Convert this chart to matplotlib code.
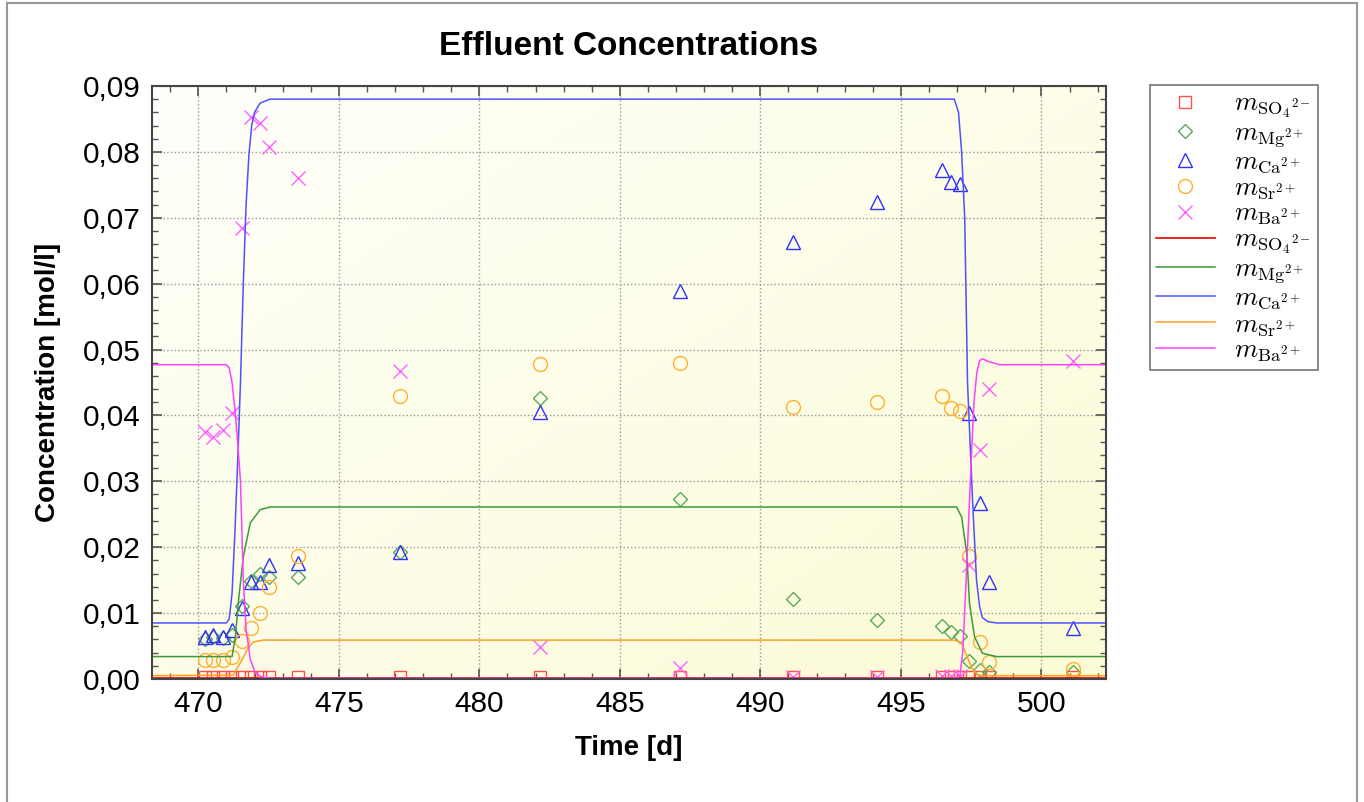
import matplotlib
matplotlib.use("Agg")
import matplotlib.pyplot as plt
import numpy as np
from matplotlib.ticker import MultipleLocator, FuncFormatter
from matplotlib.colors import LinearSegmentedColormap
from matplotlib.lines import Line2D

# measured effluent concentrations (mol/l)
t_obs = [470.25, 470.53, 470.89, 471.21, 471.56, 471.87, 472.2, 472.53, 473.54,
         477.18, 482.16, 487.13, 491.15, 494.14,
         496.45, 496.77, 497.09, 497.44, 497.8, 498.12, 501.14]
so4_obs = [0.0003] * 21
mg_obs = [0.0061, 0.0064, 0.0062, 0.0067, 0.0111, 0.0149, 0.0160, 0.0155, 0.0155,
          0.0193, 0.0427, 0.0273, 0.0122, 0.0090,
          0.0080, 0.0072, 0.0065, 0.0028, 0.0014, 0.0010, 0.0010]
ca_obs = [0.0064, 0.0066, 0.0064, 0.0074, 0.0108, 0.0147, 0.0147, 0.0173, 0.0176,
          0.0192, 0.0405, 0.0589, 0.0663, 0.0724,
          0.0772, 0.0755, 0.0751, 0.0404, 0.0267, 0.0147, 0.0077]
sr_obs = [0.0029, 0.0029, 0.0029, 0.0033, 0.0058, 0.0077, 0.0100, 0.0140, 0.0187,
          0.0429, 0.0478, 0.0480, 0.0413, 0.0420,
          0.0430, 0.0411, 0.0407, 0.0187, 0.0056, 0.0026, 0.0015]
ba_obs = [0.0375, 0.0367, 0.0378, 0.0404, 0.0684, 0.0853, 0.0844, 0.0807, 0.0760,
          0.0467, 0.0049, 0.0017, 0.0003, 0.0003,
          0.0004, 0.0004, 0.0004, 0.0173, 0.0347, 0.0440, 0.0483]

# simulated curves
so4_t = [468.35, 502.3]
so4_sim = [0.0001, 0.0001]

mg_t = [468.35, 471.2, 471.32, 471.42, 471.6, 471.85, 472.2, 472.56,
        496.98, 497.16, 497.34, 497.44, 497.62, 497.9, 498.4, 502.3]
mg_sim = [0.0034, 0.0034, 0.0064, 0.0115, 0.0185, 0.0237, 0.0257, 0.0261,
          0.0261, 0.0246, 0.0191, 0.0115, 0.0064, 0.0039, 0.0034, 0.0034]

ca_t = [468.35, 471.0, 471.1, 471.2, 471.3, 471.4, 471.5, 471.6, 471.7, 471.8, 471.9,
        472.0, 472.2, 472.55, 496.9, 497.05, 497.16, 497.27, 497.37, 497.55, 497.69,
        497.8, 497.9, 498.1, 498.4, 502.3]
ca_sim = [0.0085, 0.0085, 0.0091, 0.013, 0.022, 0.033, 0.045, 0.060, 0.072, 0.0795, 0.084,
          0.086, 0.0874, 0.088, 0.088, 0.086, 0.080, 0.070, 0.045, 0.027, 0.015,
          0.011, 0.0093, 0.0087, 0.0085, 0.0085]

sr_t = [468.35, 471.24, 471.5, 471.75, 471.95, 472.3, 496.9, 497.15, 497.35,
        497.5, 497.7, 497.9, 502.3]
sr_sim = [0.0005, 0.0006, 0.0025, 0.0045, 0.0056, 0.0059, 0.0059, 0.0055, 0.0035,
          0.0018, 0.0007, 0.0005, 0.0005]

ba_t = [468.35, 471.0, 471.1, 471.2, 471.3, 471.4, 471.5, 471.6, 471.7, 471.85, 472.0,
        472.2, 472.5, 497.0, 497.1, 497.2, 497.3, 497.4, 497.5, 497.6, 497.7, 497.8,
        497.9, 498.1, 498.5, 502.3]
ba_sim = [0.0477, 0.0477, 0.0472, 0.045, 0.041, 0.036, 0.030, 0.015, 0.0075, 0.003, 0.0012,
          0.0004, 0.0001, 0.0001, 0.0005, 0.004, 0.013, 0.023, 0.033, 0.042, 0.0465, 0.0483,
          0.0486, 0.0482, 0.0477, 0.0477]

labels = [r'$m_{\mathrm{SO}_4{}^{2-}}$', r'$m_{\mathrm{Mg}^{2+}}$', r'$m_{\mathrm{Ca}^{2+}}$',
          r'$m_{\mathrm{Sr}^{2+}}$', r'$m_{\mathrm{Ba}^{2+}}$']

plt.rcParams['font.family'] = ['Liberation Sans', 'DejaVu Sans']
plt.rcParams['mathtext.fontset'] = 'cm'

fig = plt.figure(figsize=(13.64, 8.02), dpi=100)
ax = fig.add_axes([0.1114, 0.1534, 0.6995, 0.7394])

# pale yellow gradient background
grad = np.add.outer(np.linspace(0, 1, 100), np.linspace(0, 1, 100)) / 2
cmap_bg = LinearSegmentedColormap.from_list('bg', ['#fffffb', '#fbfbd6'])
ax.imshow(grad, cmap=cmap_bg, extent=[0, 1, 0, 1], transform=ax.transAxes,
          aspect='auto', zorder=0)

mk = dict(linestyle='none', markerfacecolor='none', markeredgewidth=1.0)
ax.plot(t_obs, so4_obs, marker='s', ms=8.5, color='#ff5050', label=labels[0], **mk)
ax.plot(t_obs, mg_obs, marker='D', ms=7.5, color='#5aaa5a', label=labels[1], **mk)
ax.plot(t_obs, ca_obs, marker='^', ms=10, color='#3030ff', label=labels[2], **mk)
ax.plot(t_obs, sr_obs, marker='o', ms=10, color='#ffb030', label=labels[3], **mk)
ax.plot(t_obs, ba_obs, marker='x', ms=10, color='#ff60ff', label=labels[4], **mk)

ax.plot(so4_t, so4_sim, color='#ee1010', lw=1.3, label=labels[0])
ax.plot(mg_t, mg_sim, color='#3c9a3c', lw=1.1, label=labels[1])
ax.plot(ca_t, ca_sim, color='#5050ff', lw=1.1, label=labels[2])
ax.plot(sr_t, sr_sim, color='#ffa020', lw=1.1, label=labels[3])
ax.plot(ba_t, ba_sim, color='#ff40ff', lw=1.1, label=labels[4])

ax.set_xlim(468.35, 502.3)
ax.set_ylim(0, 0.09)
ax.xaxis.set_major_locator(MultipleLocator(5))
ax.xaxis.set_minor_locator(MultipleLocator(1))
ax.yaxis.set_major_locator(MultipleLocator(0.01))
ax.yaxis.set_minor_locator(MultipleLocator(0.002))
ax.yaxis.set_major_formatter(FuncFormatter(lambda v, p: f'{v:.2f}'.replace('.', ',')))
ax.tick_params(which='both', direction='in', top=True, right=True, color='#555555',
               labelsize=21.5, pad=8)
ax.tick_params(which='major', length=7, width=1.2)
ax.tick_params(which='minor', length=4, width=1.0)
ax.grid(True, which='major', linestyle=':', color='#999999', linewidth=1.0)
for s in ax.spines.values():
    s.set_color('#444444')
    s.set_linewidth(1.5)

ax.set_title('Effluent Concentrations', fontsize=24, fontweight='bold', pad=22)
ax.set_xlabel('Time [d]', fontsize=20, fontweight='bold', labelpad=12)
ax.set_ylabel('Concentration [mol/l]', fontsize=20, fontweight='bold', labelpad=16)

leg = ax.legend(loc='upper left', bbox_to_anchor=(0.843, 0.894), bbox_transform=fig.transFigure,
                fontsize=19, frameon=True, fancybox=False, edgecolor='#555555',
                handlelength=2.2, handleheight=0.6, labelspacing=0.02, borderpad=0.25,
                handletextpad=0.75, borderaxespad=0)
leg.get_frame().set_linewidth(1.2)

# thin frame round the picture
for xs, ys in [([0.005, 0.005], [0, 0.996]), ([0.005, 0.995], [0.996, 0.996]),
               ([0.995, 0.995], [0, 0.996])]:
    fig.add_artist(Line2D(xs, ys, transform=fig.transFigure, color='#999999', lw=1.5))

fig.savefig('out.png', dpi=100)
